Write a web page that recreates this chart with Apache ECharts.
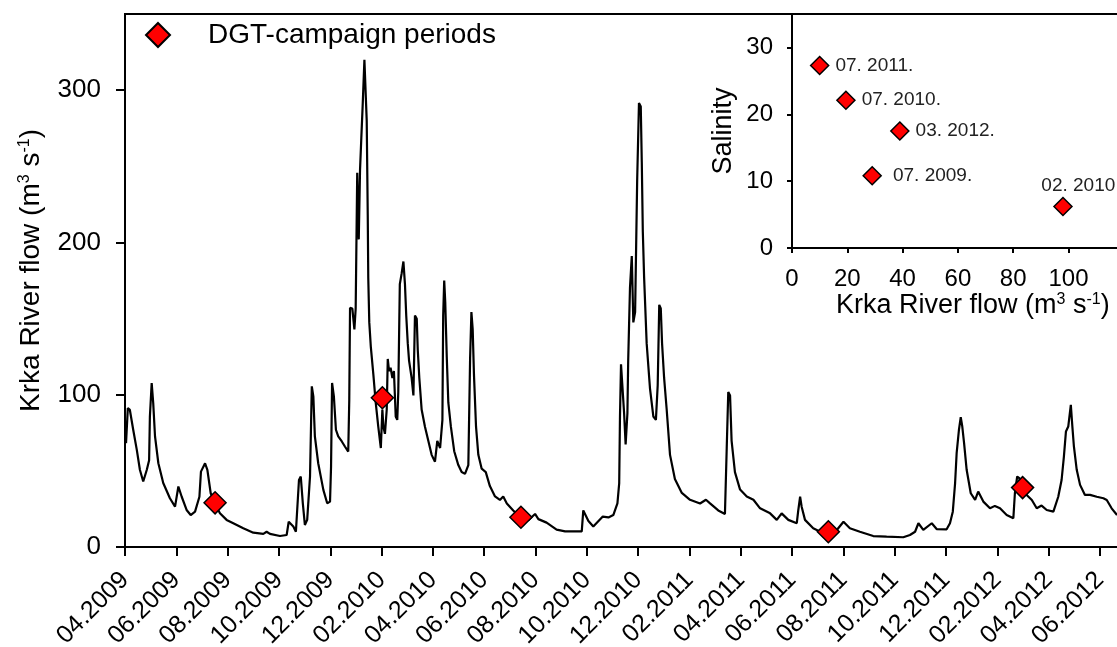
<!DOCTYPE html>
<html>
<head>
<meta charset="utf-8">
<script src="https://cdn.jsdelivr.net/npm/echarts@6/dist/echarts.min.js"></script>
<style>
  html, body { margin: 0; padding: 0; background: #fff; overflow: hidden; width: 1117px; height: 647px; }
  #chart { width: 1160px; height: 647px; }
</style>
</head>
<body>
<div id="chart"></div>
<script>
// Krka River daily flow: [months since 1 April 2009, flow in m3/s]
const flow = [
  [0.04,68.2],[0.11,91.2],[0.19,90],[0.32,77],[0.46,63.8],[0.58,50.7],[0.71,43],[0.85,50.7],[0.94,57],[0.97,85.7],
  [1.04,107.7],[1.10,94.5],[1.17,72.6],[1.30,55],[1.49,42],[1.75,32],[1.95,26.5],[2.08,39.7],[2.21,33],[2.40,24.3],
  [2.56,21],[2.73,23.2],[2.90,33],[2.96,49.5],[3.12,55],[3.21,50.7],[3.34,35.3],[3.51,28.3],[3.70,22.2],[3.96,17.8],
  [4.22,15.6],[4.61,12.3],[5.00,9.4],[5.39,8.6],[5.52,10],[5.65,8.6],[6.04,7.2],[6.30,7.9],[6.38,16.6],[6.56,13.4],
  [6.66,10],[6.78,44],[6.85,46.3],[6.93,28.7],[7.01,14.5],[7.10,17.8],[7.21,46.3],[7.28,105.5],[7.34,98.9],[7.40,72.6],
  [7.53,55],[7.73,37.5],[7.88,28.7],[7.99,29.8],[8.03,52.8],[8.07,107.7],[8.14,98.9],[8.22,77],[8.31,72.6],[8.45,69.3],
  [8.57,66],[8.70,62.7],[8.74,96.7],[8.77,157],[8.86,156.6],[8.94,142.9],[8.99,156.6],[9.05,245.8],[9.11,202],[9.16,248],
  [9.21,268.7],[9.26,289],[9.33,320],[9.38,319],[9.42,280],[9.46,218],[9.48,177],[9.52,147.5],[9.58,131.4],[9.68,113],
  [9.77,94.9],[9.87,79],[9.97,65],[10.03,90.3],[10.07,79],[10.13,74.3],[10.20,90.3],[10.24,123.5],[10.29,115.5],[10.35,117.8],
  [10.42,111],[10.48,115.5],[10.55,85.7],[10.61,83.5],[10.65,101.8],[10.71,172.6],[10.78,179.5],[10.85,187.5],[10.91,172.6],[10.96,152],
  [11.02,133.7],[11.07,122.4],[11.17,111],[11.24,99.5],[11.30,152],[11.37,149.8],[11.41,129.2],[11.47,111],[11.56,90.3],[11.69,79],
  [11.82,69.7],[11.95,60.5],[12.08,56],[12.17,69.7],[12.28,65],[12.37,83.5],[12.40,152],[12.44,175],[12.48,161],[12.54,124.6],
  [12.60,94.9],[12.70,79],[12.83,62.9],[12.99,53.8],[13.12,49.2],[13.25,48],[13.38,53.8],[13.45,124.6],[13.50,154.3],[13.55,142.9],
  [13.60,113],[13.68,79],[13.77,60.5],[13.90,51.4],[14.06,49.2],[14.22,40],[14.42,33.2],[14.61,30.9],[14.74,33.2],[14.88,28.6],
  [15.13,24],[15.43,19],[15.72,17.6],[15.98,21.7],[16.11,18.3],[16.43,16],[16.82,11.4],[17.15,10.3],[17.47,10.3],[17.80,10.3],
  [17.86,24],[17.93,24.5],[18.06,17.1],[18.25,13.4],[18.62,20],[18.84,19.4],[19.03,21],[19.19,28.7],[19.26,42],[19.29,85.7],
  [19.33,120],[19.40,120.8],[19.45,88],[19.51,67.4],[19.58,88],[19.61,122.4],[19.68,170.4],[19.75,191],[19.81,147.5],[19.88,154.3],
  [19.96,241],[20.03,291.6],[20.10,289.3],[20.14,252.6],[20.18,207],[20.23,177.2],[20.33,133.7],[20.46,104],[20.59,85.7],[20.69,83.5],
  [20.76,106.3],[20.82,159],[20.88,156.6],[20.93,133.7],[21.01,111],[21.11,90.3],[21.24,60.5],[21.43,44.6],[21.70,35.5],[22.02,31],
  [22.41,28.6],[22.64,31],[22.80,28.6],[23.12,24],[23.38,21.7],[23.45,65],[23.51,101.8],[23.58,99.5],[23.64,69.7],[23.77,49.2],
  [23.97,37.7],[24.23,33.2],[24.49,31],[24.75,25.4],[25.14,22.1],[25.40,17.8],[25.59,22.1],[25.85,17.8],[26.18,15.6],[26.24,24.3],
  [26.31,33],[26.37,26.5],[26.50,17.8],[26.82,12.3],[27.21,9],[27.41,9.4],[27.74,11.2],[28.00,16.6],[28.25,12.3],[28.64,10],
  [29.16,7.2],[29.68,6.8],[30.33,6.4],[30.59,7.9],[30.79,10],[30.92,15.6],[31.11,11.2],[31.44,15.6],[31.63,11.8],[32.02,11.6],
  [32.15,15.6],[32.26,23.2],[32.35,42],[32.41,61.6],[32.50,77],[32.57,85.3],[32.63,79.1],[32.70,68.2],[32.80,50.7],[32.96,35.3],
  [33.13,30.9],[33.25,36.4],[33.45,29.8],[33.71,25.4],[33.90,27],[34.10,25.4],[34.36,21],[34.62,18.9],[34.68,35.3],[34.77,46.3],
  [34.85,45.2],[34.98,38.2],[35.14,34.2],[35.34,30.9],[35.53,25.4],[35.72,27.2],[35.92,24.3],[36.18,23.2],[36.37,33],[36.50,44],
  [36.59,59.4],[36.67,75.9],[36.76,79.1],[36.86,93.4],[36.92,79.1],[36.98,66],[37.09,50.7],[37.22,40.8],[37.41,34.2],[37.61,34.2],
  [37.87,33],[38.13,32],[38.26,30.9],[38.45,25.4],[38.66,21]
];

// Bimonthly tick labels of the time axis (tick k sits at month 2k)
const tickLabels = ['04.2009','06.2009','08.2009','10.2009','12.2009','02.2010','04.2010','06.2010','08.2010','10.2010',
  '12.2010','02.2011','04.2011','06.2011','08.2011','10.2011','12.2011','02.2012','04.2012','06.2012'];

// DGT sampling campaigns
const campaignLabels   = ['07. 2009.', '02. 2010.', '07. 2010.', '07. 2011.', '03. 2012.'];
const campaignMonths   = [3.51, 10.03, 15.43, 27.41, 34.98];
const campaignFlow     = [29, 98, 19.5, 10, 39];
const campaignSalinity = [10.8, 6.2, 22.1, 27.3, 17.5];

const FONT = 'Liberation Sans, Arial, sans-serif';
const BLACK = '#000';

const tickMonths = tickLabels.map((_, i) => i * 2);

function unitName(size, supSize) {
  return {
    text: '{n|Krka River flow (m}{s|3}{n| s}{s|-1}{n|)}',
    rich: {
      n: { fontSize: size, fontFamily: FONT, color: BLACK },
      s: { fontSize: supSize, fontFamily: FONT, color: BLACK, verticalAlign: 'top' }
    }
  };
}

const mainName = unitName(28, 16);
const insetName = unitName(27, 16);

// label placement tweaks for the inset annotations
const labelTweaks = {
  '02. 2010.': { position: 'top', distance: 2, offset: [18, 0] },
  '07. 2009.': { position: 'right', distance: 11 }
};

const insetData = campaignFlow.map((f, i) => {
  const name = campaignLabels[i];
  const tweak = labelTweaks[name] || { position: 'right', distance: 6 };
  return { value: [f, campaignSalinity[i]], name: name, label: tweak };
});

const chart = echarts.init(document.getElementById('chart'), null, { renderer: 'canvas' });

chart.setOption({
  animation: false,
  backgroundColor: '#fff',
  textStyle: { fontFamily: FONT, color: BLACK },
  legend: {
    data: ['DGT-campaign periods'],
    left: 145, top: 21, padding: 0,
    itemWidth: 24, itemHeight: 24,
    selectedMode: false,
    textStyle: { fontSize: 28, color: BLACK, fontFamily: FONT, padding: [0, 0, 0, 33] }
  },
  grid: [
    { left: 125, right: 8.6, top: 14, bottom: 100, outerBoundsMode: 'none', containLabel: false,
      show: true, borderColor: BLACK, borderWidth: 2, backgroundColor: 'transparent' },
    { left: 792, right: 36.2, top: 14, bottom: 399, outerBoundsMode: 'none', containLabel: false,
      show: true, borderColor: BLACK, borderWidth: 2, backgroundColor: 'transparent' }
  ],
  xAxis: [
    {
      type: 'value', gridIndex: 0, min: 0, max: 40,
      axisLine: { onZero: false, lineStyle: { color: BLACK, width: 2 } },
      axisTick: { length: 9, lineStyle: { color: BLACK, width: 2 }, customValues: tickMonths },
      axisLabel: {
        customValues: tickMonths,
        formatter: v => tickLabels[Math.round(v / 2)] || '',
        rotate: 45, margin: 29, fontSize: 25, color: BLACK, fontFamily: FONT
      },
      splitLine: { show: false }
    },
    {
      type: 'value', gridIndex: 1, min: 0, max: 120,
      name: insetName.text, nameLocation: 'middle', nameGap: 44,
      nameTextStyle: { rich: insetName.rich, padding: [0, 0, 0, 30] },
      axisLine: { onZero: false, lineStyle: { color: BLACK, width: 2 } },
      axisTick: { length: 5, lineStyle: { color: BLACK, width: 2 }, customValues: [0, 20, 40, 60, 80, 100, 120] },
      axisLabel: { customValues: [0, 20, 40, 60, 80, 100], margin: 19, fontSize: 24, color: BLACK, fontFamily: FONT },
      splitLine: { show: false }
    }
  ],
  yAxis: [
    {
      type: 'value', gridIndex: 0, min: 0, max: 350,
      name: mainName.text, nameLocation: 'middle', nameGap: 80,
      nameTextStyle: { rich: mainName.rich, padding: [0, 0, 0, 20] },
      axisLine: { onZero: false, lineStyle: { color: BLACK, width: 2 } },
      axisTick: { length: 9, lineStyle: { color: BLACK, width: 2 }, customValues: [0, 100, 200, 300] },
      axisLabel: { customValues: [0, 100, 200, 300], margin: 24, fontSize: 26, color: BLACK, fontFamily: FONT },
      splitLine: { show: false }
    },
    {
      type: 'value', gridIndex: 1, min: 0, max: 35,
      name: 'Salinity', nameLocation: 'middle', nameGap: 55,
      nameTextStyle: { fontSize: 27, color: BLACK, fontFamily: FONT },
      axisLine: { onZero: false, lineStyle: { color: BLACK, width: 2 } },
      axisTick: { length: 5, lineStyle: { color: BLACK, width: 2 }, customValues: [0, 10, 20, 30] },
      axisLabel: { customValues: [0, 10, 20, 30], margin: 19, fontSize: 24, color: BLACK, fontFamily: FONT },
      splitLine: { show: false }
    }
  ],
  series: [
    {
      name: 'Krka River flow', type: 'line', xAxisIndex: 0, yAxisIndex: 0,
      data: flow, showSymbol: false, symbol: 'none',
      lineStyle: { color: BLACK, width: 2.2 }, z: 2
    },
    {
      name: 'DGT-campaign periods', type: 'scatter', xAxisIndex: 0, yAxisIndex: 0,
      data: campaignMonths.map((m, i) => [m, campaignFlow[i]]),
      symbol: 'diamond', symbolSize: 22,
      itemStyle: { color: '#ff0000', borderColor: BLACK, borderWidth: 1.5, opacity: 1 }, z: 3
    },
    {
      name: 'Salinity vs flow', type: 'scatter', xAxisIndex: 1, yAxisIndex: 1,
      data: insetData,
      symbol: 'diamond', symbolSize: 18,
      itemStyle: { color: '#ff0000', borderColor: BLACK, borderWidth: 1.5, opacity: 1 },
      label: {
        show: true, formatter: p => p.name,
        fontSize: 19, color: '#222', fontFamily: FONT
      }, z: 3
    }
  ]
});
</script>
</body>
</html>
